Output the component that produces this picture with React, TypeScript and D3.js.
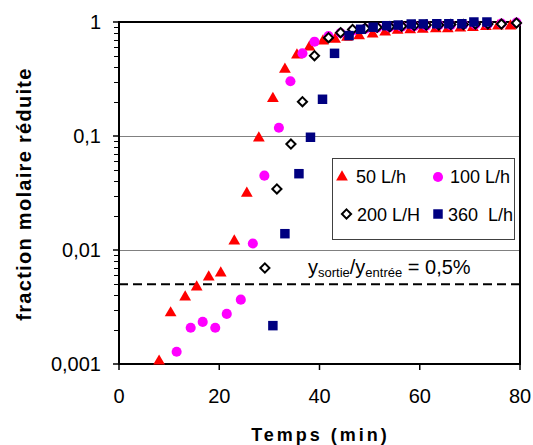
import React from "react";
import * as d3 from "d3";

const t50 = [8, 10.3, 13.2, 15.5, 17.9, 20.3, 23.0, 25.5, 27.9, 30.7, 33.1, 35.5, 38.0, 40.7, 43.1, 45.5, 47.9, 50.6, 53.1, 55.6, 58.1, 60.6, 63.2, 65.6, 68.1, 70.6, 73.2, 75.6, 78.1];
const v50 = [0.00108, 0.00286, 0.00395, 0.00483, 0.00591, 0.00641, 0.0122, 0.0321, 0.098, 0.217, 0.393, 0.524, 0.616, 0.695, 0.72, 0.75, 0.77, 0.8, 0.83, 0.86, 0.87, 0.88, 0.89, 0.89, 0.9, 0.91, 0.93, 0.94, 0.94];

const t100 = [11.5, 14.3, 16.7, 19.2, 21.5, 24.3, 26.7, 29.0, 31.9, 34.2, 36.6, 39.0, 41.8, 44.2, 46.6, 49.1, 51.5, 54.0, 56.4, 58.9, 61.3, 63.8, 66.2, 68.7, 71.1, 73.6, 76.3, 79.3];
const v100 = [0.00128, 0.00208, 0.00234, 0.00208, 0.00275, 0.00367, 0.0114, 0.0449, 0.118, 0.302, 0.531, 0.672, 0.754, 0.8, 0.84, 0.87, 0.89, 0.9, 0.91, 0.92, 0.93, 0.94, 0.94, 0.95, 0.95, 0.96, 0.97, 0.99];

const t200 = [29.1, 31.5, 34.3, 36.6, 39.0, 41.8, 44.2, 46.6, 49.1, 51.5, 54.0, 56.4, 58.9, 61.3, 63.8, 66.2, 68.7, 71.1, 73.6, 76.3, 79.3];
const v200 = [0.00695, 0.0343, 0.085, 0.2, 0.506, 0.728, 0.806, 0.86, 0.88, 0.9, 0.91, 0.92, 0.93, 0.94, 0.94, 0.95, 0.95, 0.96, 0.96, 0.96, 0.98];

const t360 = [30.7, 33.1, 35.9, 38.2, 40.6, 43.0, 45.9, 48.2, 50.7, 53.4, 55.7, 58.3, 60.7, 63.4, 65.8, 68.4, 70.8, 73.4];
const v360 = [0.00217, 0.0139, 0.0467, 0.0975, 0.21, 0.531, 0.76, 0.863, 0.9, 0.928, 0.94, 0.96, 0.962, 0.965, 0.965, 0.965, 1.0, 1.0];

const xTicks = [0, 20, 40, 60, 80];
const yTicks = [1, 0.1, 0.01, 0.001];
const yTickLabels = ["1", "0,1", "0,01", "0,001"];
const threshold = 0.005;

const W = 533, H = 445;
const L = 119, R = 520, T = 22, B = 364;
const FONT = "'Liberation Sans', Arial, sans-serif";

const x = d3.scaleLinear().domain([0, 80]).range([L, R]);
const y = d3.scaleLog().domain([0.001, 1]).range([B, T]);

const triPath = d3.symbol(d3.symbolTriangle, 60)()!;
const circPath = d3.symbol(d3.symbolCircle, 80)()!;
const sqPath = d3.symbol(d3.symbolSquare, 90)()!;
const diamondPath = "M0,-4.6L4.6,0L0,4.6L-4.6,0Z";

type MarkerKind = "tri" | "circ" | "diam" | "sq";

function Marker({ kind, cx, cy }: { kind: MarkerKind; cx: number; cy: number }) {
  const tr = `translate(${cx},${cy})`;
  if (kind === "tri") return <path d={triPath} transform={`translate(${cx},${cy + 1})`} fill="#FF0000" />;
  if (kind === "circ") return <path d={circPath} transform={tr} fill="#FF00FF" />;
  if (kind === "sq") return <path d={sqPath} transform={tr} fill="#000080" />;
  return <path d={diamondPath} transform={tr} fill="#FFFFFF" stroke="#000000" strokeWidth={2} />;
}

const series: { t: number[]; v: number[]; kind: MarkerKind }[] = [
  { t: t50, v: v50, kind: "tri" },
  { t: t100, v: v100, kind: "circ" },
  { t: t200, v: v200, kind: "diam" },
  { t: t360, v: v360, kind: "sq" },
];

export default function App() {
  const minor: number[] = [];
  for (let e = -3; e < 0; e++) {
    for (let k = 2; k <= 9; k++) minor.push(k * Math.pow(10, e));
  }
  return (
    <svg width={W} height={H} style={{ position: "absolute", left: 0, top: 0, background: "#fff" }} fontFamily={FONT}>
      <rect x={0} y={0} width={W} height={H} fill="#fff" />
      {/* gridlines */}
      {[0.1, 0.01].map((v) => (
        <line key={v} x1={L} x2={R} y1={Math.round(y(v)) + 0.5} y2={Math.round(y(v)) + 0.5} stroke="#808080" strokeWidth={1} />
      ))}
      {/* threshold dashed */}
      <line x1={L} x2={R} y1={y(threshold)} y2={y(threshold)} stroke="#000" strokeWidth={2} strokeDasharray="9,5" />
      {/* border top/right */}
      <line x1={L} x2={R} y1={T} y2={T} stroke="#000" strokeWidth={2} />
      <line x1={R} x2={R} y1={T} y2={B} stroke="#000" strokeWidth={2} />
      {/* axes */}
      <line x1={L} x2={L} y1={T - 1} y2={B + 1} stroke="#000" strokeWidth={2} />
      <line x1={L - 1} x2={R + 1} y1={B} y2={B} stroke="#000" strokeWidth={2} />
      {minor.map((v) => (
        <line key={v} x1={L - 5} x2={L} y1={Math.round(y(v)) + 0.5} y2={Math.round(y(v)) + 0.5} stroke="#000" strokeWidth={1} />
      ))}
      {yTicks.map((v, i) => (
        <g key={v}>
          <line x1={L - 6} x2={L} y1={y(v)} y2={y(v)} stroke="#000" strokeWidth={1.5} />
          <text x={101} y={y(v) + 7} textAnchor="end" fontSize={20} fill="#000">
            {yTickLabels[i]}
          </text>
        </g>
      ))}
      {xTicks.map((v) => (
        <g key={v}>
          <line x1={x(v)} x2={x(v)} y1={B} y2={B + 6} stroke="#000" strokeWidth={1.5} />
          <text x={x(v)} y={B + 39} textAnchor="middle" fontSize={20} fill="#000">
            {v}
          </text>
        </g>
      ))}
      {/* axis titles */}
      <text x={(L + R) / 2 + 1} y={441} textAnchor="middle" fontSize={18} fontWeight="bold" letterSpacing={3} fill="#000">
        Temps (min)
      </text>
      <text
        transform={`translate(31,194) rotate(-90)`}
        textAnchor="middle"
        fontSize={20}
        fontWeight="bold"
        letterSpacing={1.3}
        fill="#000"
      >
        fraction molaire réduite
      </text>
      {/* data */}
      {series.map((s, si) => (
        <g key={si}>
          {s.t.map((t, i) => (
            <Marker key={i} kind={s.kind} cx={x(t)} cy={y(s.v[i])} />
          ))}
        </g>
      ))}
      {/* annotation */}
      <text x={308} y={274} fontSize={20} fill="#000">
        y<tspan fontSize={13} dy={3}>sortie</tspan>
        <tspan dy={-3}>/y</tspan>
        <tspan fontSize={13} dy={3}>entrée</tspan>
        <tspan dy={-3}> = 0,5%</tspan>
      </text>
      {/* legend */}
      <rect x={332.5} y={158.5} width={182} height={81} fill="#fff" stroke="#404040" strokeWidth={1} />
      <Marker kind="tri" cx={342} cy={176} />
      <text x={356} y={183} fontSize={18}>50 L/h</text>
      <text x={450} y={183} fontSize={18}>100 L/h</text>
      <Marker kind="circ" cx={438} cy={177} />
      <Marker kind="diam" cx={346.5} cy={214} />
      <text x={357} y={221} fontSize={18}>200 L/H</text>
      <Marker kind="sq" cx={438} cy={214} />
      <text x={448} y={221} fontSize={18} style={{ whiteSpace: "pre" }}>{"360  L/h"}</text>
    </svg>
  );
}
